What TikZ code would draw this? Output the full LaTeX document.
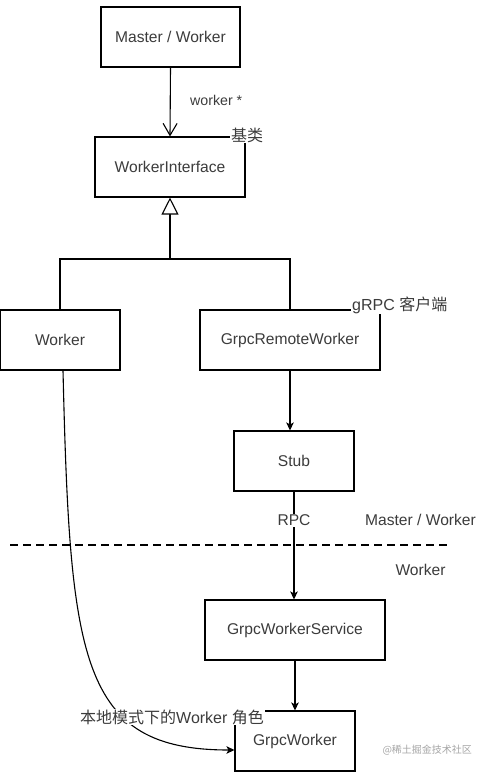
\documentclass[tikz,border=0pt]{standalone}
\usepackage{fontspec}
\setmainfont{Liberation Sans}
\newfontfamily\cjk{Noto Sans CJK SC}
\usetikzlibrary{arrows.meta,calc}
\definecolor{txt}{RGB}{60,60,60}
\begin{document}
\begin{tikzpicture}[x=1pt,y=-1pt,
  every node/.style={text=txt},
  box/.style={draw=black,line width=1.1pt,minimum height=60pt,inner sep=0pt,font=\fontsize{15.6}{18}\selectfont},
  lbl/.style={fill=white,inner sep=1pt,font=\fontsize{15.6}{18}\selectfont},
  clbl/.style={fill=white,inner sep=1pt,font=\fontsize{16}{18}\selectfont},
  conn/.style={line width=1.1pt},
  farrow/.style={conn,-{Stealth[length=8pt,width=7.5pt,inset=2pt]}},
]
\useasboundingbox (0,0) rectangle (486,772);
\fill[white] (0,0) rectangle (486,772);

\node[box,minimum width=139pt] (mw) at (170.5,37) {Master / Worker};
\node[box,minimum width=150pt] (wi) at (170,167) {WorkerInterface};
\node[box,minimum width=120pt] (worker) at (60,340) {Worker};
\node[box,minimum width=180pt] (grw) at (290,340) {GrpcRemoteWorker};
\node[box,minimum width=120pt] (stub) at (294,461) {Stub};
\node[box,minimum width=180pt] (gws) at (295,630) {GrpcWorkerService};
\node[box,minimum width=120pt] (gw) at (295,741) {GrpcWorker};

% corner labels
\node[clbl] (jl) at (247,135) {\cjk 基类};
\node[clbl,anchor=west] (grpcl) at (351,305) {gRPC {\cjk 客户端}};

% Master/Worker -> WorkerInterface
\draw[conn,-{Straight Barb[length=12pt,width=14pt]}] (mw.south) -- node[right=16pt,pos=0.48,font=\fontsize{14.2}{16}\selectfont]{worker *} (wi.north);

% inheritance
\coordinate (jn) at (170,259);
\draw[conn,{Triangle[open,fill=white,length=17pt,width=17pt]}-] (wi.south) -- (jn);
\draw[conn] (worker.north) |- (jn) -| (grw.north);

% GrpcRemoteWorker -> Stub
\draw[farrow] (grw.south) -- (grw.south |- stub.north);

% separator
\draw[line width=1.8pt,dash pattern=on 8pt off 5pt] (10,545) -- (450,545);
\node[font=\fontsize{15.6}{18}\selectfont] (ml) at (420.5,520) {Master / Worker};
\node[font=\fontsize{15.6}{18}\selectfont] (wl) at (420.5,570) {Worker};

% Stub -> GrpcWorkerService
\draw[farrow] (stub.south) -- node[lbl,pos=0.265]{RPC} (stub.south |- gws.north);

% GrpcWorkerService -> GrpcWorker
\draw[farrow] (gws.south) -- (gw.north);

% Worker -> GrpcWorker (local mode)
\draw[farrow] ($(worker.south)+(3,0)$) .. controls (70,660) and (80,750) .. ($(gw.west)+(0,9)$);
\node[clbl,anchor=west] (local) at (79,717) {{\cjk 本地模式下的}Worker {\cjk 角色}};

% watermark
\node[anchor=west,text=black!35,font=\cjk\fontsize{10}{12}\selectfont] (wm) at (379,750) {@稀土掘金技术社区};
\end{tikzpicture}
\end{document}
